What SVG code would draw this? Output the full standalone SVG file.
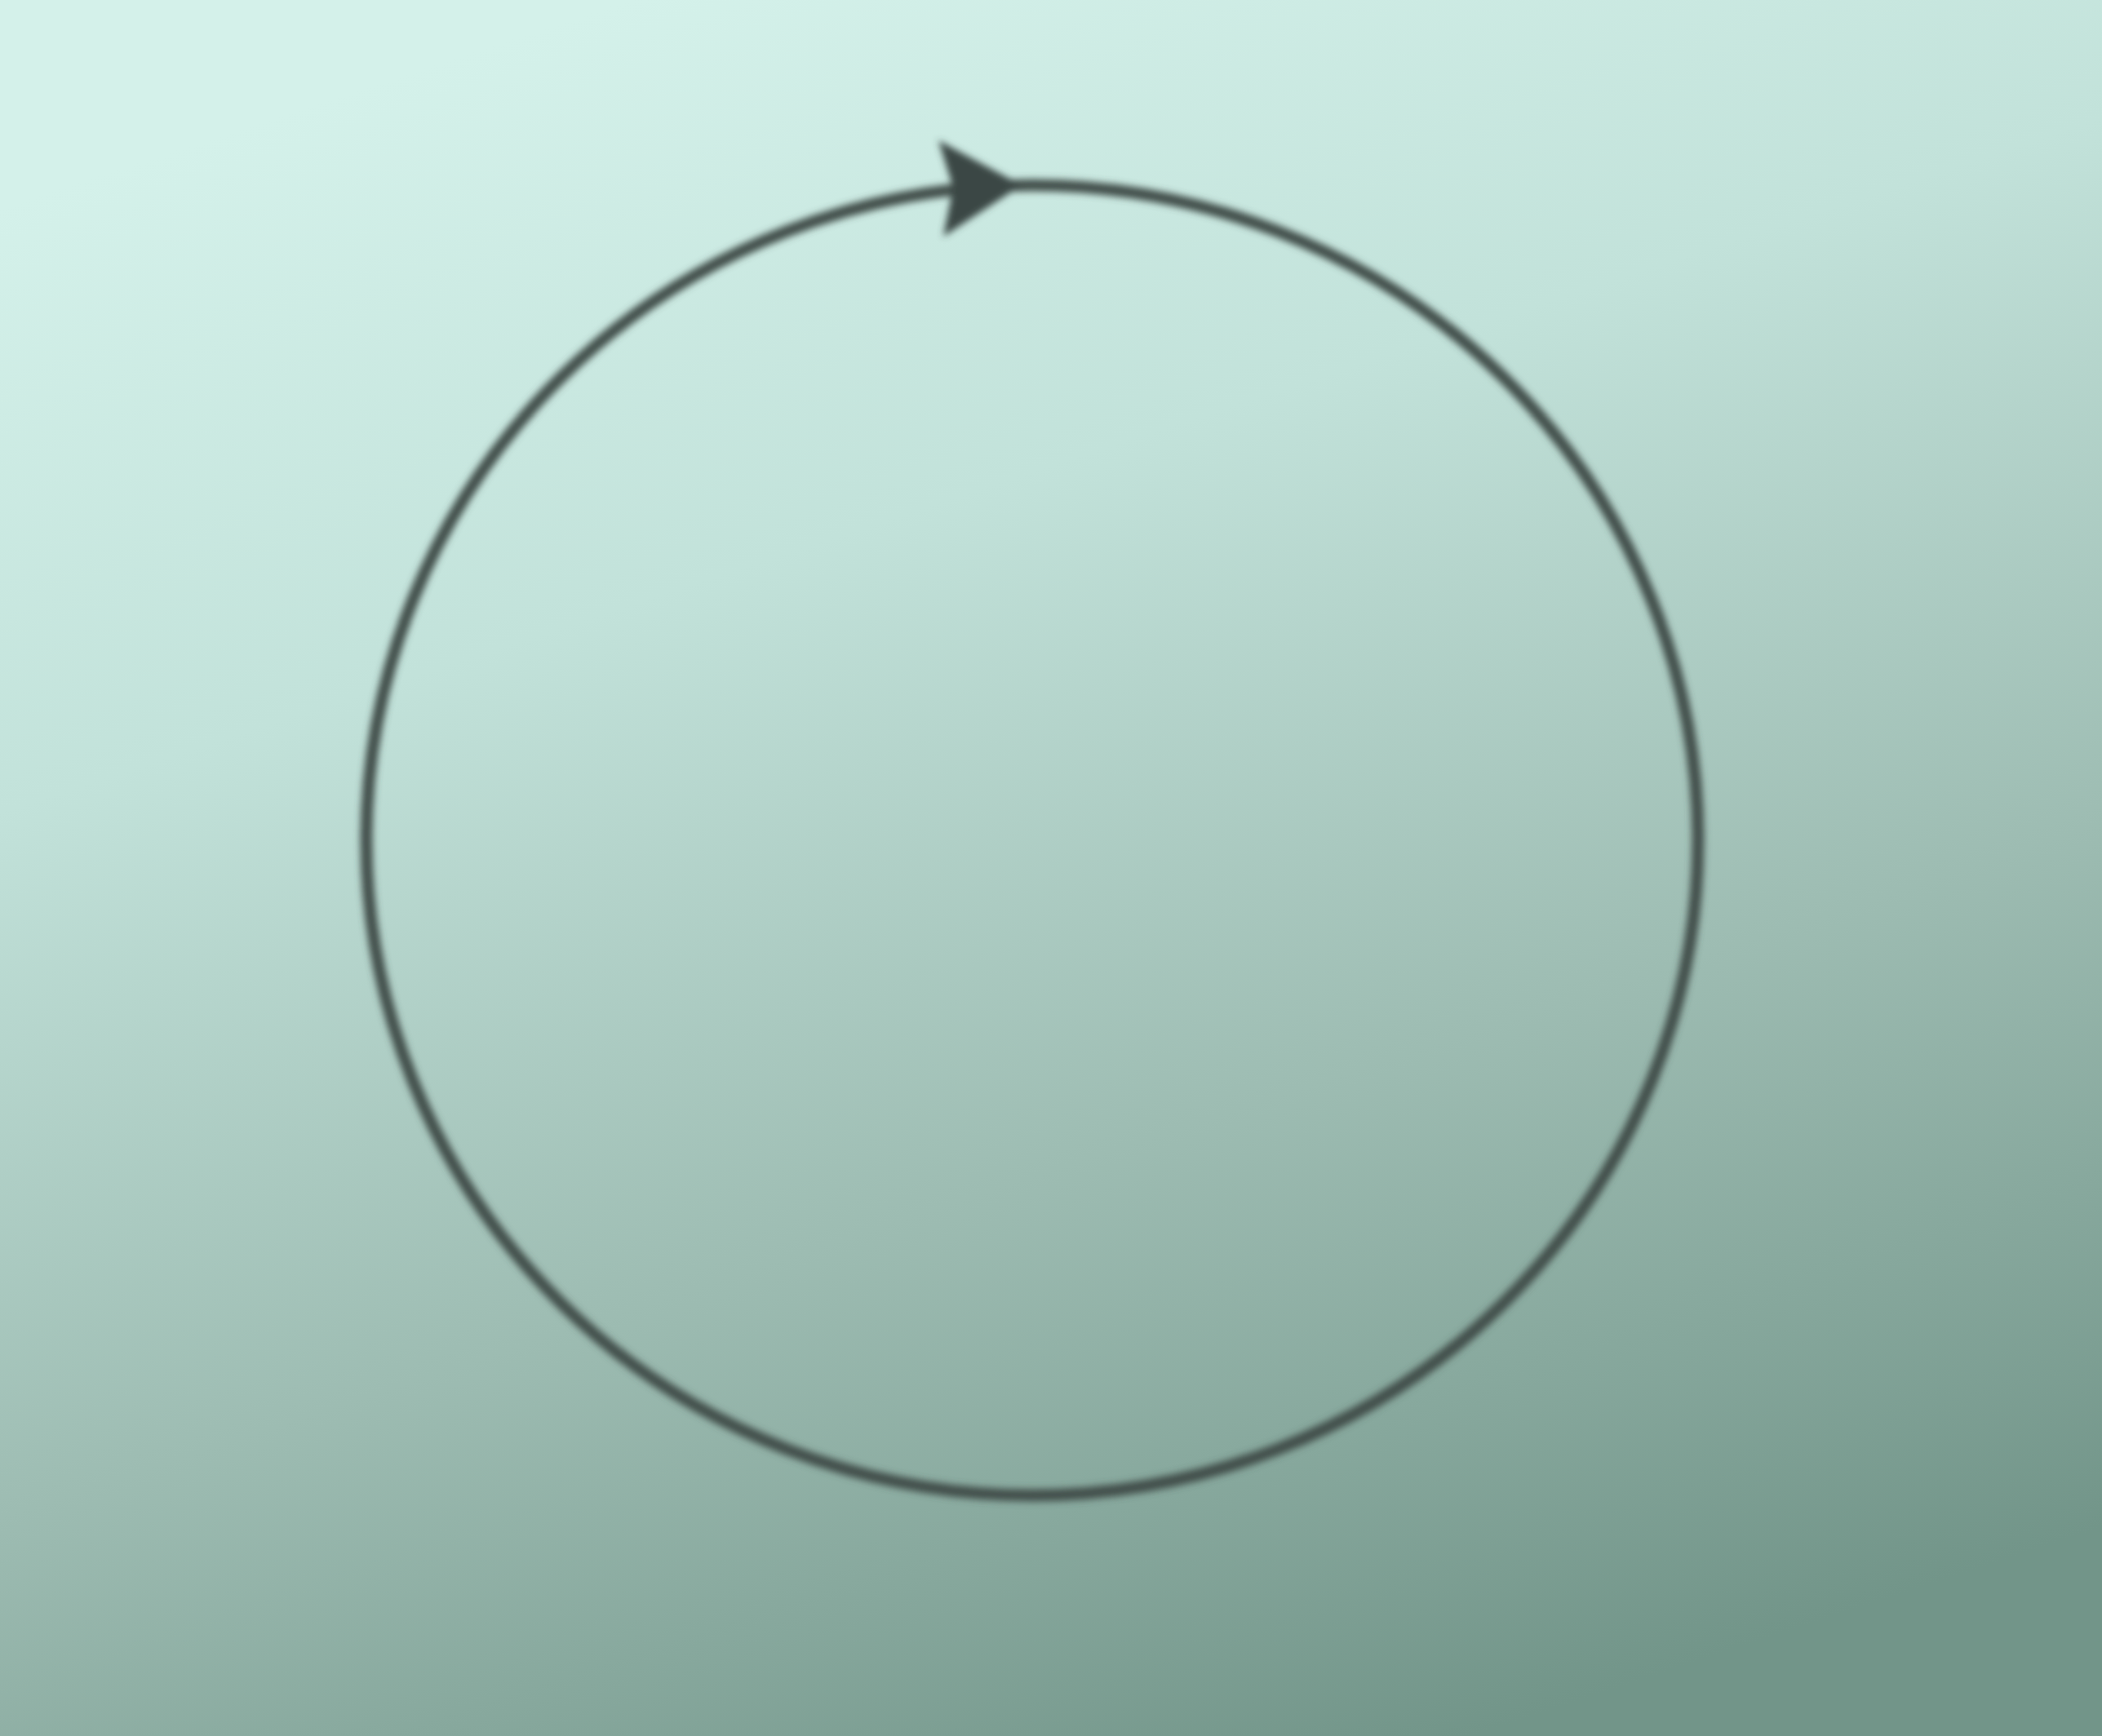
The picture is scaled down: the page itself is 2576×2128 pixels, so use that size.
<svg xmlns="http://www.w3.org/2000/svg" width="2576" height="2128" viewBox="0 0 2576 2128">
  <defs>
    <linearGradient id="bg" x1="0.3" y1="0" x2="0.7" y2="1">
      <stop offset="0" stop-color="#d4f1ea"/>
      <stop offset="0.3" stop-color="#c2e2da"/>
      <stop offset="0.65" stop-color="#9dbcb2"/>
      <stop offset="1" stop-color="#729589"/>
    </linearGradient>
    <filter id="soft" x="-5%" y="-5%" width="110%" height="110%">
      <feGaussianBlur stdDeviation="4"/>
    </filter>
    <style>
      .ring { fill: none; stroke: #434f4c; stroke-width: 15; }
      .head { fill: #3a4744; }
    </style>
  </defs>
  <rect width="2576" height="2128" fill="url(#bg)"/>
  <g id="connectors" filter="url(#soft)">
    <ellipse class="ring" cx="1265" cy="1030" rx="816" ry="803"/>
    <path class="head" d="M1252,227 L1150,172 L1168,230 L1156,290 Z"/>
  </g>
</svg>
